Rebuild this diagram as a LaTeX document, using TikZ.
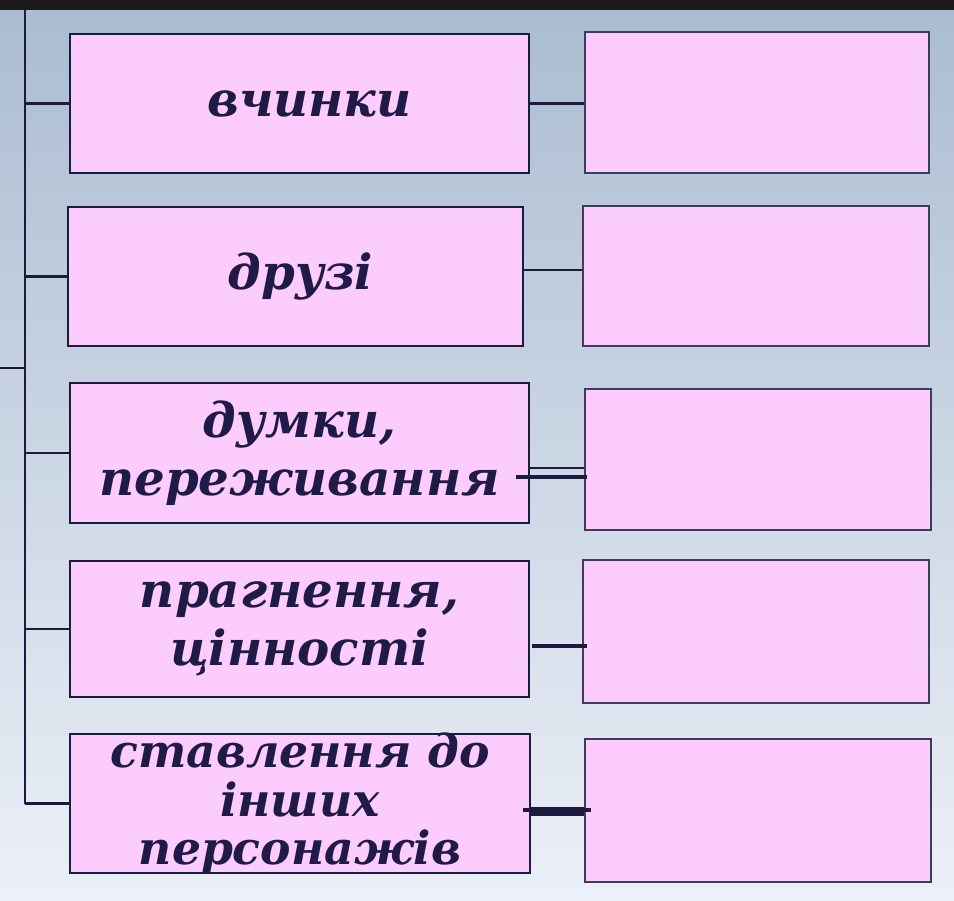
\documentclass[tikz,border=0pt]{standalone}
\usepackage{fontspec}
\usetikzlibrary{positioning,calc}
\newfontfamily\cardfont{DejaVu Serif}
\definecolor{navy}{RGB}{28,26,62}
\definecolor{ink}{RGB}{32,26,72}
\definecolor{petal}{RGB}{252,204,252}
\definecolor{skytop}{RGB}{170,188,208}
\definecolor{skymid}{RGB}{200,212,226}
\definecolor{skylow}{RGB}{236,240,248}
\definecolor{bar}{RGB}{26,26,26}
\tikzset{
  card/.style={draw=navy,fill=petal,line width=1.5pt,inner sep=0pt,align=center,
    font=\cardfont\bfseries\itshape\fontsize{27.5}{33}\selectfont,text=ink},
  slot/.style={draw=navy!85!white,fill=petal,line width=1.2pt},
  link/.style={draw=navy,line width=#1},
  link/.default=1.2pt,
}

\begin{document}
\begin{tikzpicture}[x=0.02cm,y=-0.02cm]
  \useasboundingbox (0,0) rectangle (954,900);
  \shade[top color=skytop,middle color=skymid,bottom color=skylow] (0,0) rectangle (954,900);
  \fill[bar] (0,0) rectangle (954,10);

  \node[card,minimum width=9.18cm,minimum height=2.78cm] (l1) at (299.5,103.5) {\hspace*{0.4cm}вчинки};
  \node[card,minimum width=9.10cm,minimum height=2.78cm] (l2) at (295.5,276.5) {\hspace*{0.2cm}друзі};
  \node[card,minimum width=9.18cm,minimum height=2.80cm] (l3) at (299.5,453) {думки,\\переживання};
  \node[card,minimum width=9.18cm,minimum height=2.72cm] (l4) at (299.5,629) {прагнення,\\цінності};
  \node[card,minimum width=9.20cm,minimum height=2.78cm,inner ysep=-0.3cm,
    font=\cardfont\bfseries\itshape\fontsize{26}{27.5}\selectfont] (l5) at (300,803.5) {ставлення до\\інших\\персонажів};

  \node[slot,minimum width=6.88cm,minimum height=2.82cm] (r1) at (757,102.5) {};
  \node[slot,minimum width=6.92cm,minimum height=2.80cm] (r2) at (756,276) {};
  \node[slot,minimum width=6.92cm,minimum height=2.82cm] (r3) at (758,459.5) {};
  \node[slot,minimum width=6.92cm,minimum height=2.86cm] (r4) at (756,631.5) {};
  \node[slot,minimum width=6.92cm,minimum height=2.86cm] (r5) at (758,810.5) {};

  % spine
  \coordinate (top) at (25,10);
  \coordinate (stub) at (0,368);
  \draw[link] (top) -- (top |- l5.west);
  \draw[link] (stub) -- (stub -| top);
  \foreach \n in {l1,l2,l3,l4,l5} \draw[link] (\n.west -| top) -- (\n.west);

  \draw[link] (l1.east) -- (l1.east -| r1.west);
  \draw[link] ([yshift=0.13cm]l2.east) -- ([yshift=0.13cm]r2.west |- l2.east);
  \draw[link=0.9pt] ([yshift=-0.3cm]l3.east) -- ([yshift=-0.3cm]r3.west |- l3.east);
  \draw[link=1.8pt] ([xshift=-0.28cm,yshift=-0.48cm]l3.east) -- ([xshift=0.06cm,yshift=-0.48cm]r3.west |- l3.east);
  \draw[link=2.4pt] ([xshift=0.04cm,yshift=-0.34cm]l4.east) -- ([xshift=0.1cm,yshift=-0.34cm]r4.west |- l4.east);
  \draw[link=2.4pt] ([xshift=-0.16cm,yshift=-0.13cm]l5.east) -- ([xshift=0.14cm,yshift=-0.13cm]r5.west |- l5.east);
  \draw[link=5.5pt] ([yshift=-0.16cm]l5.east) -- ([yshift=-0.16cm]r5.west |- l5.east);
\end{tikzpicture}
\end{document}
